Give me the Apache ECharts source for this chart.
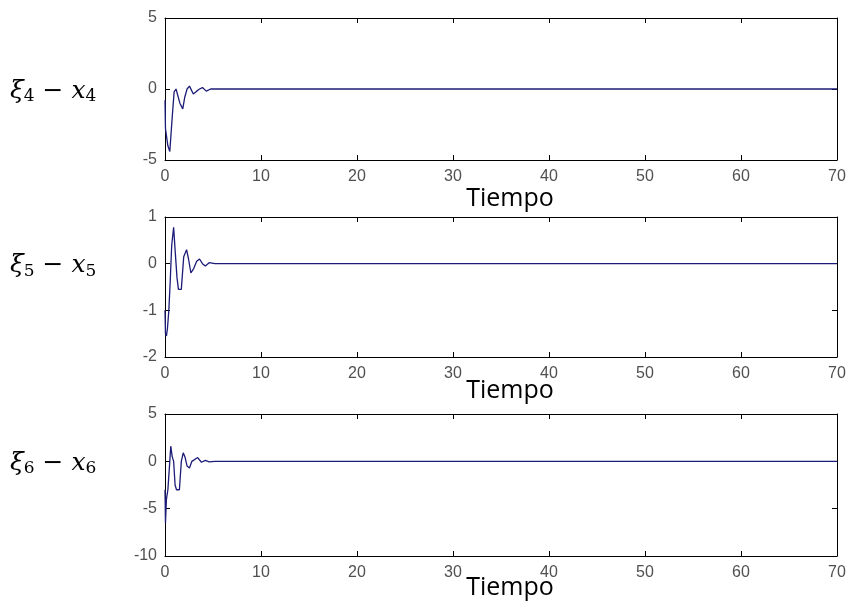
<!DOCTYPE html>
<html>
<head>
<meta charset="utf-8">
<script src="https://cdn.jsdelivr.net/npm/echarts@6/dist/echarts.min.js"></script>
<style>
  html, body { margin: 0; padding: 0; background: #fff; }
  #chart { width: 850px; height: 607px; }
</style>
</head>
<body>
<div id="chart"></div>
<script>
// Error signals ξi − xi over time (s)
const time4 = [0, 0.05, 0.3, 0.5, 0.75, 0.95, 1.15, 1.35, 1.55, 1.85, 2.05, 2.3, 2.55, 2.95, 3.3, 3.6, 3.9, 4.3, 4.75, 5.2, 70];
const err4  = [-0.8, -2.8, -4.0, -4.4, -2.0, -0.2, 0.0, -0.1, -1.0, -1.4, -0.6, 0.0, 0.2, -0.35, -0.15, 0.0, 0.1, -0.15, 0.0, 0.0, 0.0];

const time5 = [0, 0.05, 0.15, 0.25, 0.4, 0.55, 0.7, 0.9, 1.05, 1.25, 1.4, 1.7, 1.95, 2.25, 2.45, 2.7, 3.0, 3.3, 3.6, 3.9, 4.2, 4.6, 5.2, 70];
const err5  = [-1.0, -1.5, -1.55, -1.4, -1.0, -0.35, 0.4, 0.78, 0.3, -0.3, -0.55, -0.55, 0.15, 0.3, 0.1, -0.2, -0.1, 0.05, 0.1, 0.0, -0.05, 0.02, 0.0, 0.0];

const time6 = [0, 0.05, 0.15, 0.3, 0.5, 0.6, 0.75, 0.9, 1.05, 1.2, 1.5, 1.7, 1.9, 2.1, 2.3, 2.55, 2.8, 3.0, 3.4, 3.8, 4.2, 4.6, 5.2, 70];
const err6  = [-3.0, -6.5, -4.0, -3.0, 0.0, 1.6, 0.5, 0.0, -2.5, -3.0, -3.0, 0.0, 0.9, 0.4, -0.5, -0.7, 0.0, 0.2, 0.4, -0.1, 0.1, -0.05, 0.0, 0.0];

const yRanges = [
  { min: -5, max: 5, interval: 5 },
  { min: -2, max: 1, interval: 1 },
  { min: -10, max: 5, interval: 5 }
];
const sub = ['4', '5', '6'];
const xTitle = 'Tiempo';
const panels = [[time4, err4], [time5, err5], [time6, err6]];

const grids = [
  { left: 165, width: 672, top: 18, height: 142 },
  { left: 165, width: 672, top: 217, height: 140 },
  { left: 165, width: 672, top: 414, height: 142 }
];
// vertical centre of each "Tiempo" caption
const titleY = [199, 391, 588];

const lineColor = '#1c1c78';
const tickFont = { color: '#505050', fontSize: 16, fontFamily: 'Liberation Sans' };
const tick = { show: true, inside: true, length: 5, lineStyle: { color: '#000' } };
const line = { show: true, onZero: false, lineStyle: { color: '#000', width: 1 } };

const xAxes = [], yAxes = [], series = [], graphics = [];
grids.forEach((g, i) => {
  // bottom axis carries the labels, top/right mirror the ticks to close the box
  xAxes.push({
    type: 'value', gridIndex: i, min: 0, max: 70, interval: 10, position: 'bottom',
    axisLine: line, axisTick: tick,
    axisLabel: Object.assign({ margin: 9 }, tickFont),
    splitLine: { show: false }
  });
  xAxes.push({
    type: 'value', gridIndex: i, min: 0, max: 70, interval: 10, position: 'top',
    axisLine: line, axisTick: tick,
    axisLabel: { show: false }, splitLine: { show: false }
  });
  const r = yRanges[i];
  yAxes.push({
    type: 'value', gridIndex: i, min: r.min, max: r.max, interval: r.interval, position: 'left',
    axisLine: line, axisTick: tick,
    axisLabel: Object.assign({ margin: 8 }, tickFont),
    splitLine: { show: false }
  });
  yAxes.push({
    type: 'value', gridIndex: i, min: r.min, max: r.max, interval: r.interval, position: 'right',
    axisLine: line, axisTick: tick,
    axisLabel: { show: false }, splitLine: { show: false }
  });
  const [t, v] = panels[i];
  series.push({
    type: 'line', xAxisIndex: i * 2, yAxisIndex: i * 2,
    data: t.map((tt, k) => [tt, v[k]]),
    showSymbol: false, symbol: 'none',
    lineStyle: { color: lineColor, width: 1.3 },
    animation: false
  });
  // x-axis caption
  graphics.push({
    type: 'text', x: 510, y: titleY[i],
    style: { text: xTitle, fill: '#000', font: '25px "Open Sans"', textAlign: 'center', textVerticalAlign: 'middle' }
  });
  // y-axis caption ξi − xi, centred on the zero line
  const zeroY = g.top + g.height * r.max / (r.max - r.min);
  graphics.push({
    type: 'text', x: 10, y: zeroY + 2,
    style: {
      text: '{v|ξ}{s|' + sub[i] + '}{v| − }{v|x}{s|' + sub[i] + '}',
      textVerticalAlign: 'middle',
      rich: {
        v: { fontSize: 25, fontFamily: 'DejaVu Serif', fontStyle: 'italic', fill: '#000' },
        s: { fontSize: 17, fontFamily: 'DejaVu Serif', fill: '#000', padding: [11, 0, 0, 0] }
      }
    }
  });
});

const chart = echarts.init(document.getElementById('chart'));
chart.setOption({
  animation: false,
  backgroundColor: '#fff',
  grid: grids,
  xAxis: xAxes,
  yAxis: yAxes,
  series: series,
  graphic: graphics
});
</script>
</body>
</html>
